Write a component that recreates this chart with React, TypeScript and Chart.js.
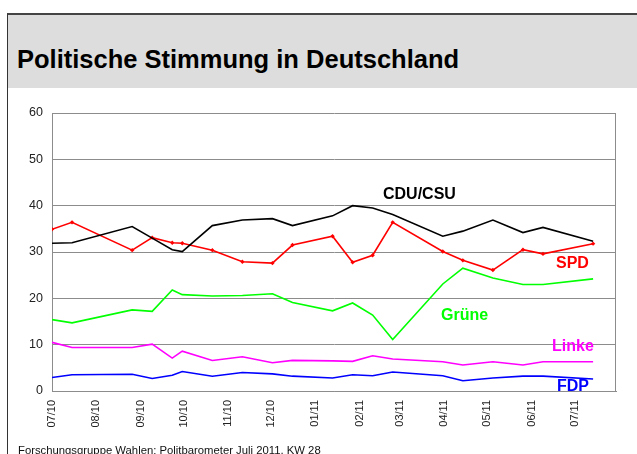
import React, { useEffect, useRef } from 'react';
import { Chart, registerables } from 'chart.js';

Chart.register(...registerables);

const FONT = '"Liberation Sans", Arial, Helvetica, sans-serif';

const axisStart = '2010-07-02';
const axisEnd = '2011-07-31';

const surveyDates = [
  '2010-07-02', '2010-07-16', '2010-08-27', '2010-09-10', '2010-09-24', '2010-10-01',
  '2010-10-22', '2010-11-12', '2010-12-03', '2010-12-17', '2011-01-14', '2011-01-28',
  '2011-02-11', '2011-02-25', '2011-04-01', '2011-04-15', '2011-05-06', '2011-05-27',
  '2011-06-10', '2011-07-15',
];

const cduCsu = [31.9, 32.0, 35.5, 33.0, 30.5, 30.1, 35.7, 36.9, 37.2, 35.7, 37.8, 40.0, 39.5, 38.1, 33.4, 34.5, 36.9, 34.2, 35.3, 32.3];
const spd = [34.9, 36.4, 30.4, 33.1, 32.0, 31.9, 30.4, 27.9, 27.6, 31.5, 33.4, 27.8, 29.3, 36.4, 30.1, 28.2, 26.1, 30.5, 29.6, 31.8];
const gruene = [15.4, 14.7, 17.5, 17.2, 21.8, 20.8, 20.5, 20.6, 21.0, 19.1, 17.3, 19.0, 16.4, 11.1, 23.1, 26.5, 24.4, 23.0, 23.0, 24.2];
const linke = [10.5, 9.4, 9.4, 10.1, 7.1, 8.6, 6.6, 7.4, 6.1, 6.6, 6.5, 6.4, 7.6, 6.9, 6.3, 5.6, 6.3, 5.6, 6.3, 6.3];
const fdp = [2.9, 3.5, 3.6, 2.7, 3.4, 4.2, 3.2, 4.0, 3.7, 3.2, 2.8, 3.5, 3.3, 4.1, 3.3, 2.2, 2.8, 3.2, 3.2, 2.6];

const monthTicks = [
  '2010-07-02', '2010-08-02', '2010-09-02', '2010-10-02', '2010-11-02', '2010-12-02',
  '2011-01-02', '2011-02-02', '2011-03-02', '2011-04-02', '2011-05-02', '2011-06-02', '2011-07-02',
];
const monthLabels = ['07/10', '08/10', '09/10', '10/10', '11/10', '12/10', '01/11', '02/11', '03/11', '04/11', '05/11', '06/11', '07/11'];

const toDay = (d: string) => (Date.parse(d) - Date.parse(axisStart)) / 86400000;
const pts = (vals: number[]) => surveyDates.map((d, i) => ({ x: toDay(d), y: vals[i] }));

const rightBorder = {
  id: 'rightBorder',
  afterDraw(chart: any) {
    const { ctx, chartArea } = chart;
    ctx.save();
    ctx.strokeStyle = '#8c8c8c';
    ctx.lineWidth = 1;
    ctx.beginPath();
    ctx.moveTo(Math.round(chartArea.right) - 0.5, chartArea.top);
    ctx.lineTo(Math.round(chartArea.right) - 0.5, chartArea.bottom);
    ctx.stroke();
    ctx.restore();
  },
};

function App() {
  const ref = useRef<HTMLCanvasElement | null>(null);

  useEffect(() => {
    if (!ref.current) return;
    const line = (label: string, vals: number[], color: string, extra: any = {}) => ({
      label,
      data: pts(vals),
      borderColor: color,
      backgroundColor: color,
      borderWidth: 1.6,
      pointRadius: 0,
      tension: 0,
      ...extra,
    });
    const chart = new Chart(ref.current, {
      type: 'line',
      data: {
        datasets: [
          line('CDU/CSU', cduCsu, '#000000'),
          line('SPD', spd, '#ff0000', { pointRadius: 2.2, pointStyle: 'rectRot', pointBorderWidth: 0, pointBackgroundColor: '#ff0000' }),
          line('Grüne', gruene, '#00ff00'),
          line('Linke', linke, '#ff00ff'),
          line('FDP', fdp, '#0000ff'),
        ],
      },
      options: {
        animation: false,
        responsive: false,
        layout: { padding: { left: 0, top: 113, right: 21, bottom: 0 } },
        plugins: { legend: { display: false }, title: { display: false }, tooltip: { enabled: false } },
        scales: {
          x: {
            type: 'linear',
            min: 0,
            max: toDay(axisEnd),
            afterBuildTicks: (s: any) => {
              s.ticks = monthTicks.map((d) => ({ value: toDay(d) }));
            },
            afterFit: (s: any) => {
              s.height = 63;
            },
            ticks: {
              autoSkip: false,
              minRotation: 90,
              maxRotation: 90,
              padding: 9,
              color: '#222',
              font: { family: FONT, size: 11 },
              callback: (_v: any, i: number) => monthLabels[i],
            },
            grid: { display: false, drawTicks: false },
            border: { display: true, color: '#8c8c8c', width: 1 },
          },
          y: {
            min: 0,
            max: 60,
            afterFit: (s: any) => {
              s.width = 52;
            },
            ticks: { stepSize: 10, padding: 9, color: '#222', font: { family: FONT, size: 12.5 } },
            grid: { color: '#8c8c8c', drawTicks: false },
            border: { display: true, color: '#8c8c8c', width: 1 },
          },
        },
      },
      plugins: [rightBorder],
    });
    return () => chart.destroy();
  }, []);

  const label = (text: string, color: string, left: number, baseline: number) => (
    <div
      style={{
        position: 'absolute',
        left,
        top: baseline - 13.55,
        fontSize: 16,
        lineHeight: '16px',
        fontWeight: 'bold',
        color,
        whiteSpace: 'nowrap',
      }}
    >
      {text}
    </div>
  );

  return (
    <div
      style={{
        position: 'fixed',
        left: 0,
        top: 0,
        width: 637,
        height: 454,
        background: '#ffffff',
        overflow: 'hidden',
        fontFamily: FONT,
      }}
    >
      <div style={{ position: 'absolute', left: 7, top: 13, width: 640, height: 460, borderTop: '2px solid #444', borderLeft: '1px solid #333' }} />
      <div style={{ position: 'absolute', left: 8, top: 15, width: 640, height: 73, background: '#dddddd' }} />
      <div
        style={{
          position: 'absolute',
          left: 17,
          top: 44,
          fontSize: 25.5,
          lineHeight: '30px',
          fontWeight: 'bold',
          color: '#000',
          whiteSpace: 'nowrap',
        }}
      >
        Politische Stimmung in Deutschland
      </div>
      <canvas ref={ref} width={637} height={454} style={{ position: 'absolute', left: 0, top: 0 }} />
      {label('CDU/CSU', '#000000', 383, 199.5)}
      {label('SPD', '#ff0000', 556, 269)}
      {label('Grüne', '#00ff00', 441, 321)}
      {label('Linke', '#ff00ff', 552, 351.7)}
      {label('FDP', '#0000ff', 557, 392)}
      <div
        style={{
          position: 'absolute',
          left: 18,
          top: 443,
          fontSize: 11.3,
          lineHeight: '14px',
          color: '#111',
          whiteSpace: 'nowrap',
        }}
      >
        Forschungsgruppe Wahlen: Politbarometer Juli 2011, KW 28
      </div>
    </div>
  );
}

export default App;
